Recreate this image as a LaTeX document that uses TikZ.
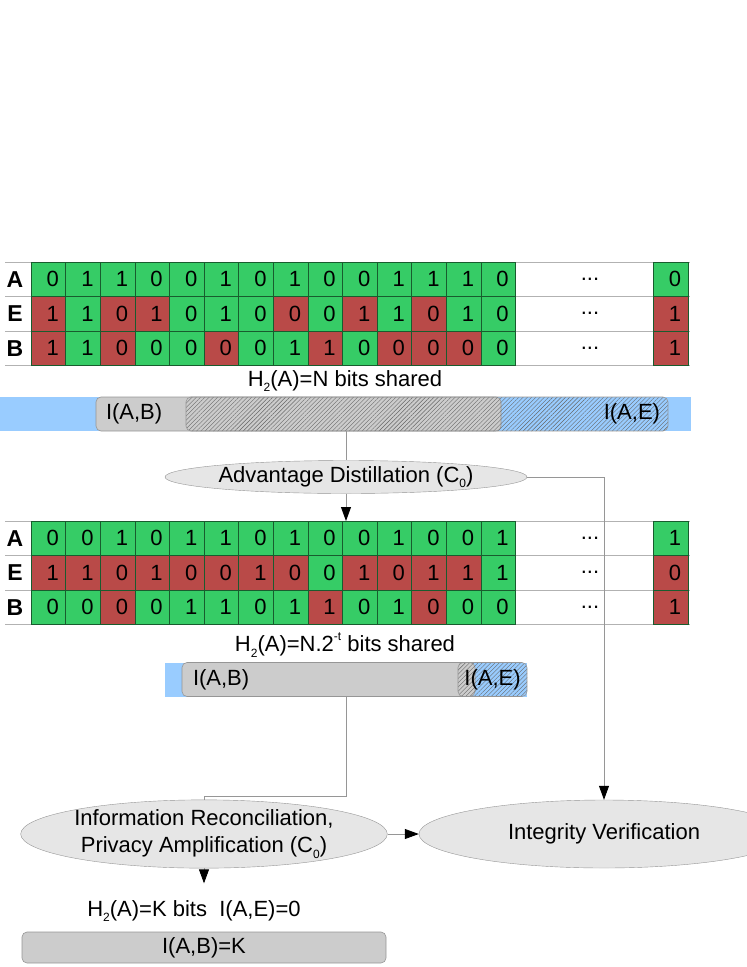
\documentclass[tikz,border=0pt]{standalone}
\usepackage{fontspec}
\setmainfont{Liberation Sans}
\usetikzlibrary{arrows.meta,positioning,calc,shapes.geometric,patterns.meta}

\definecolor{gr}{RGB}{54,204,102}
\definecolor{rd}{RGB}{185,74,72}
\definecolor{barblue}{RGB}{153,204,255}
\definecolor{boxgray}{RGB}{204,204,204}
\definecolor{ellgray}{RGB}{230,230,230}
\definecolor{linegray}{RGB}{150,150,150}

\newcommand{\lowsub}[1]{\raisebox{-0.45ex}{\fontsize{12}{12}\selectfont #1}}
\newcommand{\highsup}[1]{\raisebox{0.95ex}{\fontsize{12}{12}\selectfont #1}}

\begin{document}
\begin{tikzpicture}[
  x=1pt, y=-1pt,
  font=\fontsize{22}{27}\selectfont,
  cell/.style={
    rectangle, draw=black!55!gr, line width=0.6pt,
    minimum width=34.6pt, minimum height=34.5pt, inner sep=0pt
  },
  rowlbl/.style={font=\fontsize{23}{27}\selectfont\bfseries},
  sepline/.style={draw=black!30, line width=0.8pt},
  bar/.style={rectangle, fill=barblue, minimum height=34pt, inner sep=0pt},
  ibox/.style={
    rectangle, rounded corners=5pt,
    draw=linegray, fill=boxgray, line width=0.6pt,
    minimum height=34pt, inner ysep=0pt
  },
  hatch/.style={
    rectangle, rounded corners=5pt,
    draw=linegray, line width=0.6pt,
    pattern={Lines[angle=45,distance=3pt,line width=0.4pt]},
    pattern color=black!60,
    minimum height=34pt, inner ysep=0pt
  },
  stage/.style={ellipse, draw=linegray, fill=ellgray, inner sep=0pt, align=center},
  wire/.style={draw=linegray, line width=0.8pt},
  arr/.style={wire, -{Triangle[length=14pt,width=10pt,color=black]}}
]
\useasboundingbox (0,0) rectangle (747,967);

% row lines of both tables
\foreach \y in {262,296.5,331,365.5,521,555.5,590,624.5}
  \draw[sepline] (5,\y) -- (690,\y);

% bit tables
\foreach \n/\t/\y/\cells/\lv/\lc in {
  a1/A/279.25/{0/gr,1/gr,1/gr,0/gr,0/gr,1/gr,0/gr,1/gr,0/gr,0/gr,1/gr,1/gr,1/gr,0/gr}/0/gr,
  e1/E/313.75/{1/rd,1/gr,0/rd,1/rd,0/gr,1/gr,0/gr,0/rd,0/gr,1/rd,1/gr,0/rd,1/gr,0/gr}/1/rd,
  b1/B/348.25/{1/rd,1/gr,0/rd,0/gr,0/gr,0/rd,0/gr,1/gr,1/rd,0/gr,0/rd,0/rd,0/rd,0/gr}/1/rd,
  a2/A/538.25/{0/gr,0/gr,1/gr,0/gr,1/gr,1/gr,0/gr,1/gr,0/gr,0/gr,1/gr,0/gr,0/gr,1/gr}/1/gr,
  e2/E/572.75/{1/rd,1/rd,0/rd,1/rd,0/rd,0/rd,1/rd,0/rd,0/gr,1/rd,0/rd,1/rd,1/rd,1/gr}/0/rd,
  b2/B/607.25/{0/gr,0/gr,0/rd,0/gr,1/gr,1/gr,0/gr,1/gr,1/rd,0/gr,1/gr,0/rd,0/gr,0/gr}/1/rd}{
  \node[rowlbl] (\n-lbl) at (15,\y) {\t};
  \foreach \v/\c [count=\i] in \cells
    \node[cell, fill=\c] (\n-\i) at (13.7+34.6*\i,\y) {\hspace*{9pt}\v};
  \node (\n-dots) at (590,\y) {...};
  \node[cell, fill=\lc] (\n-last) at (670.5,\y) {\hspace*{9pt}\lv};
}
\coordinate (g2top) at (0,521);

\node (nbits) at (345,381) {H\lowsub{2}(A)=N bits shared};
\node[bar, minimum width=691pt] (bar1) at (345.5,414) {};
\node[ibox, text width=385pt, inner xsep=10pt, align=left] (ab1) at (298.5,414) {I(A,B)};
\node[hatch, text width=466pt, inner xsep=8pt, align=right] (ae1) at (427,414) {I(A,E)};

\node[stage, minimum width=362pt, minimum height=33pt] (adv) at (346,477)
  {Advantage Distillation (C\lowsub{0})};

\node (tbits) at (345,645) {H\lowsub{2}(A)=N.2\highsup{-t} bits shared};
\node[bar, minimum width=362pt] (bar2) at (346,679.5) {};
\node[ibox, text width=271pt, inner xsep=11pt, align=left] (ab2) at (328.5,679.5) {I(A,B)};
\node[hatch, minimum width=69pt, inner xsep=0pt] (ae2) at (492.5,679.5) {I(A,E)};

\node[stage, minimum width=364pt, minimum height=68pt] (info) at (204,834)
  {Information Reconciliation,\\Privacy Amplification (C\lowsub{0})};
\node[stage, minimum width=370pt, minimum height=68pt] (integ) at (604,834)
  {Integrity Verification};

\node (kbits) at (194,911) {H\lowsub{2}(A)=K bits\ \ I(A,E)=0};
\node[ibox, minimum width=364pt, minimum height=31pt] (ab3) at (204,947.5) {I(A,B)=K};

\draw[wire] (adv.north |- bar1.south) -- (adv.north);
\draw[arr] (adv.south) -- (adv.south |- g2top);
\draw[arr] (adv.east) -| (integ.north);
\draw[wire] (bar2.south) -- ++(0,100) -| (info.north);
\draw[arr] (info.east) -- (integ.west);
\draw[arr] (info.south) -- ++(0,15);

\end{tikzpicture}
\end{document}
